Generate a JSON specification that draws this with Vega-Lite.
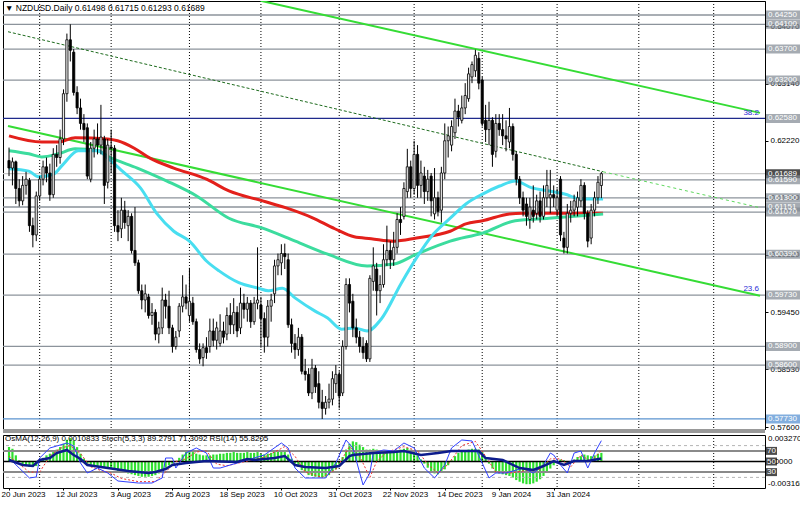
{
"$schema":"https://vega.github.io/schema/vega-lite/v6.json",
"padding":0,
"background":"white",
"spacing":0,
"config":{"view":{"stroke":"#000","strokeWidth":1},"font":"Liberation Sans","axis":{"labelFont":"Liberation Sans"}},
"datasets":{
"grid":[{"g":9},{"g":30},{"g":53},{"g":74},{"g":97},{"g":119},{"g":139},{"g":161},{"g":185},{"g":207}],
"levels":[{"p":0.6425,"c":"g"},{"p":0.641,"c":"g"},{"p":0.637,"c":"g"},{"p":0.632,"c":"g"},{"p":0.6258,"c":"n"},{"p":0.61689,"c":"k"},{"p":0.6159,"c":"g"},{"p":0.613,"c":"g"},{"p":0.6107,"c":"g"},{"p":0.61151,"c":"g"},{"p":0.6039,"c":"g"},{"p":0.5973,"c":"g"},{"p":0.589,"c":"g"},{"p":0.586,"c":"g"},{"p":0.5773,"c":"b"}],
"chan":[{"ln":"up","i":73.9,"p":0.6448},{"ln":"up","i":220.6,"p":0.6267},{"ln":"lo","i":-0.3,"p":0.6246},{"ln":"lo","i":220.6,"p":0.5972},{"ln":"mid","i":-0.3,"p":0.6398},{"ln":"mid","i":174.5,"p":0.6172},{"ln":"ext","i":174.5,"p":0.6172},{"ln":"ext","i":220.6,"p":0.6114}],
"mas":[
{"ma":"r","i":0,"p":0.6230},{"ma":"r","i":9.6,"p":0.6220},{"ma":"r","i":14.5,"p":0.6220},{"ma":"r","i":19.4,"p":0.6227},{"ma":"r","i":29,"p":0.6225},{"ma":"r","i":31.9,"p":0.6222},{"ma":"r","i":36.8,"p":0.6210},{"ma":"r","i":41.4,"p":0.6194},{"ma":"r","i":48.4,"p":0.6178},{"ma":"r","i":58,"p":0.6160},{"ma":"r","i":64.6,"p":0.6141},{"ma":"r","i":74.5,"p":0.6125},{"ma":"r","i":81.2,"p":0.6114},{"ma":"r","i":89,"p":0.6098},{"ma":"r","i":95.7,"p":0.6080},{"ma":"r","i":101.4,"p":0.6067},{"ma":"r","i":106.4,"p":0.6064},{"ma":"r","i":113,"p":0.6060},{"ma":"r","i":119.7,"p":0.6065},{"ma":"r","i":129.6,"p":0.6076},{"ma":"r","i":134.2,"p":0.6088},{"ma":"r","i":139.1,"p":0.6093},{"ma":"r","i":147,"p":0.6104},{"ma":"r","i":150.7,"p":0.6105},{"ma":"r","i":158.6,"p":0.6105},{"ma":"r","i":168.1,"p":0.6105},{"ma":"r","i":174.5,"p":0.6105},
{"ma":"t","i":0,"p":0.6206},{"ma":"t","i":5.8,"p":0.6201},{"ma":"t","i":9.6,"p":0.6196},{"ma":"t","i":14.5,"p":0.6201},{"ma":"t","i":19.4,"p":0.6209},{"ma":"t","i":26.1,"p":0.6206},{"ma":"t","i":29,"p":0.6197},{"ma":"t","i":37.7,"p":0.6178},{"ma":"t","i":46.4,"p":0.6157},{"ma":"t","i":55.1,"p":0.6133},{"ma":"t","i":64.6,"p":0.6097},{"ma":"t","i":74.5,"p":0.6081},{"ma":"t","i":84.1,"p":0.6060},{"ma":"t","i":93.6,"p":0.6039},{"ma":"t","i":105.2,"p":0.6020},{"ma":"t","i":113,"p":0.6023},{"ma":"t","i":119.7,"p":0.6039},{"ma":"t","i":129.6,"p":0.6060},{"ma":"t","i":139.1,"p":0.6073},{"ma":"t","i":148.7,"p":0.6093},{"ma":"t","i":158.6,"p":0.6097},{"ma":"t","i":168.1,"p":0.6101},{"ma":"t","i":174.5,"p":0.6104},
{"ma":"c","i":0,"p":0.6177},{"ma":"c","i":5.8,"p":0.6173},{"ma":"c","i":8.7,"p":0.6164},{"ma":"c","i":13,"p":0.6168},{"ma":"c","i":15.9,"p":0.6184},{"ma":"c","i":20.3,"p":0.6206},{"ma":"c","i":26.1,"p":0.6206},{"ma":"c","i":29,"p":0.6194},{"ma":"c","i":33.3,"p":0.6173},{"ma":"c","i":38.6,"p":0.6146},{"ma":"c","i":43.5,"p":0.6104},{"ma":"c","i":48.4,"p":0.6076},{"ma":"c","i":53,"p":0.6060},{"ma":"c","i":58,"p":0.6028},{"ma":"c","i":61.7,"p":0.6012},{"ma":"c","i":67.5,"p":0.5993},{"ma":"c","i":73.3,"p":0.5984},{"ma":"c","i":76.2,"p":0.5980},{"ma":"c","i":80.3,"p":0.5984},{"ma":"c","i":84.1,"p":0.5968},{"ma":"c","i":89.9,"p":0.5947},{"ma":"c","i":93.6,"p":0.5936},{"ma":"c","i":97.7,"p":0.5918},{"ma":"c","i":101.4,"p":0.5920},{"ma":"c","i":105.2,"p":0.5915},{"ma":"c","i":109.3,"p":0.5934},{"ma":"c","i":115.1,"p":0.5991},{"ma":"c","i":119.7,"p":0.6033},{"ma":"c","i":124.6,"p":0.6071},{"ma":"c","i":129.6,"p":0.6097},{"ma":"c","i":134.2,"p":0.6120},{"ma":"c","i":139.1,"p":0.6136},{"ma":"c","i":144.1,"p":0.6149},{"ma":"c","i":148.7,"p":0.6157},{"ma":"c","i":153.6,"p":0.6146},{"ma":"c","i":158.6,"p":0.6141},{"ma":"c","i":163.2,"p":0.6136},{"ma":"c","i":168.1,"p":0.6128},{"ma":"c","i":174.5,"p":0.6128}],
"candles":[
{"i":0,"o":0.6190,"h":0.6211,"l":0.6165,"c":0.6178},{"i":1,"o":0.6178,"h":0.6195,"l":0.6150,"c":0.6188},{"i":2,"o":0.6188,"h":0.6190,"l":0.6120,"c":0.6145},{"i":3,"o":0.6145,"h":0.6160,"l":0.6116,"c":0.6125},{"i":4,"o":0.6125,"h":0.6165,"l":0.6118,"c":0.6150},
{"i":5,"o":0.6150,"h":0.6172,"l":0.6135,"c":0.6160},{"i":6,"o":0.6158,"h":0.6162,"l":0.6075,"c":0.6085},{"i":7,"o":0.6085,"h":0.6098,"l":0.6050,"c":0.6070},{"i":8,"o":0.6070,"h":0.6140,"l":0.6060,"c":0.6133},{"i":9,"o":0.6133,"h":0.6165,"l":0.6125,"c":0.6160},
{"i":10,"o":0.6160,"h":0.6190,"l":0.6150,"c":0.6180},{"i":11,"o":0.6180,"h":0.6195,"l":0.6155,"c":0.6170},{"i":12,"o":0.6170,"h":0.6185,"l":0.6125,"c":0.6135},{"i":13,"o":0.6135,"h":0.6210,"l":0.6130,"c":0.6200},{"i":14,"o":0.6200,"h":0.6215,"l":0.6180,"c":0.6195},
{"i":15,"o":0.6195,"h":0.6240,"l":0.6185,"c":0.6225},{"i":16,"o":0.6225,"h":0.6305,"l":0.6215,"c":0.6298},{"i":17,"o":0.6298,"h":0.6395,"l":0.6285,"c":0.6385},{"i":18,"o":0.6385,"h":0.6410,"l":0.6350,"c":0.6368},{"i":19,"o":0.6365,"h":0.6370,"l":0.6295,"c":0.6300},
{"i":20,"o":0.6300,"h":0.6310,"l":0.6265,"c":0.6275},{"i":21,"o":0.6275,"h":0.6290,"l":0.6240,"c":0.6250},{"i":22,"o":0.6250,"h":0.6265,"l":0.6220,"c":0.6240},{"i":23,"o":0.6243,"h":0.6250,"l":0.6160,"c":0.6165},{"i":24,"o":0.6160,"h":0.6220,"l":0.6155,"c":0.6210},
{"i":25,"o":0.6210,"h":0.6240,"l":0.6195,"c":0.6225},{"i":26,"o":0.6225,"h":0.6250,"l":0.6200,"c":0.6215},{"i":27,"o":0.6215,"h":0.6280,"l":0.6200,"c":0.6228},{"i":28,"o":0.6225,"h":0.6230,"l":0.6120,"c":0.6150},{"i":29,"o":0.6155,"h":0.6225,"l":0.6145,"c":0.6215},
{"i":30,"o":0.6212,"h":0.6240,"l":0.6170,"c":0.6210},{"i":31,"o":0.6210,"h":0.6215,"l":0.6075,"c":0.6085},{"i":32,"o":0.6085,"h":0.6110,"l":0.6060,"c":0.6075},{"i":33,"o":0.6080,"h":0.6130,"l":0.6065,"c":0.6110},{"i":34,"o":0.6110,"h":0.6125,"l":0.6080,"c":0.6090},
{"i":35,"o":0.6085,"h":0.6110,"l":0.6060,"c":0.6100},{"i":36,"o":0.6100,"h":0.6105,"l":0.6040,"c":0.6045},{"i":37,"o":0.6045,"h":0.6115,"l":0.6020,"c":0.6025},{"i":38,"o":0.6025,"h":0.6030,"l":0.5975,"c":0.5980},{"i":39,"o":0.5980,"h":0.5990,"l":0.5950,"c":0.5965},
{"i":40,"o":0.5965,"h":0.5990,"l":0.5945,"c":0.5975},{"i":41,"o":0.5970,"h":0.5975,"l":0.5935,"c":0.5940},{"i":42,"o":0.5940,"h":0.5960,"l":0.5925,"c":0.5945},{"i":43,"o":0.5945,"h":0.5950,"l":0.5900,"c":0.5910},{"i":44,"o":0.5910,"h":0.5930,"l":0.5895,"c":0.5920},
{"i":45,"o":0.5920,"h":0.5985,"l":0.5910,"c":0.5965},{"i":46,"o":0.5965,"h":0.5975,"l":0.5935,"c":0.5955},{"i":47,"o":0.5955,"h":0.5980,"l":0.5910,"c":0.5920},{"i":48,"o":0.5920,"h":0.5925,"l":0.5880,"c":0.5890},{"i":49,"o":0.5890,"h":0.5915,"l":0.5885,"c":0.5905},
{"i":50,"o":0.5915,"h":0.5960,"l":0.5905,"c":0.5955},{"i":51,"o":0.5955,"h":0.6005,"l":0.5945,"c":0.5970},{"i":52,"o":0.5970,"h":0.5990,"l":0.5950,"c":0.5960},{"i":53,"o":0.5940,"h":0.6017,"l":0.5930,"c":0.5963},{"i":54,"o":0.5960,"h":0.5970,"l":0.5925,"c":0.5930},
{"i":55,"o":0.5930,"h":0.5935,"l":0.5880,"c":0.5885},{"i":56,"o":0.5885,"h":0.5895,"l":0.5862,"c":0.5870},{"i":57,"o":0.5872,"h":0.5895,"l":0.5858,"c":0.5888},{"i":58,"o":0.5888,"h":0.5905,"l":0.5870,"c":0.5880},{"i":59,"o":0.5890,"h":0.5935,"l":0.5880,"c":0.5915},
{"i":60,"o":0.5915,"h":0.5935,"l":0.5890,"c":0.5900},{"i":61,"o":0.5900,"h":0.5930,"l":0.5885,"c":0.5920},{"i":62,"o":0.5895,"h":0.5942,"l":0.5890,"c":0.5915},{"i":63,"o":0.5915,"h":0.5930,"l":0.5895,"c":0.5905},{"i":64,"o":0.5910,"h":0.5953,"l":0.5900,"c":0.5940},
{"i":65,"o":0.5940,"h":0.5960,"l":0.5910,"c":0.5925},{"i":66,"o":0.5925,"h":0.5968,"l":0.5910,"c":0.5945},{"i":67,"o":0.5945,"h":0.5955,"l":0.5905,"c":0.5915},{"i":68,"o":0.5920,"h":0.5985,"l":0.5910,"c":0.5960},{"i":69,"o":0.5960,"h":0.5975,"l":0.5935,"c":0.5950},
{"i":70,"o":0.5950,"h":0.5970,"l":0.5930,"c":0.5960},{"i":71,"o":0.5960,"h":0.5965,"l":0.5920,"c":0.5930},{"i":72,"o":0.5930,"h":0.5970,"l":0.5925,"c":0.5960},{"i":73,"o":0.5960,"h":0.6050,"l":0.5950,"c":0.5965},{"i":74,"o":0.5957,"h":0.5970,"l":0.5888,"c":0.5935},
{"i":75,"o":0.5935,"h":0.5945,"l":0.5880,"c":0.5905},{"i":76,"o":0.5905,"h":0.5965,"l":0.5890,"c":0.5955},{"i":77,"o":0.5955,"h":0.5975,"l":0.5930,"c":0.5965},{"i":78,"o":0.5975,"h":0.6030,"l":0.5960,"c":0.6020},{"i":79,"o":0.6020,"h":0.6040,"l":0.6005,"c":0.6030},
{"i":80,"o":0.6025,"h":0.6055,"l":0.6005,"c":0.6040},{"i":81,"o":0.6040,"h":0.6056,"l":0.6015,"c":0.6035},{"i":82,"o":0.6030,"h":0.6040,"l":0.5920,"c":0.5925},{"i":83,"o":0.5925,"h":0.5935,"l":0.5880,"c":0.5895},{"i":84,"o":0.5895,"h":0.5910,"l":0.5870,"c":0.5885},
{"i":85,"o":0.5885,"h":0.5920,"l":0.5875,"c":0.5905},{"i":86,"o":0.5905,"h":0.5910,"l":0.5845,"c":0.5850},{"i":87,"o":0.5850,"h":0.5870,"l":0.5835,"c":0.5845},{"i":88,"o":0.5845,"h":0.5855,"l":0.5810,"c":0.5815},{"i":89,"o":0.5815,"h":0.5870,"l":0.5805,"c":0.5855},
{"i":90,"o":0.5855,"h":0.5860,"l":0.5815,"c":0.5825},{"i":91,"o":0.5830,"h":0.5850,"l":0.5790,"c":0.5800},{"i":92,"o":0.5800,"h":0.5820,"l":0.5773,"c":0.5790},{"i":93,"o":0.5790,"h":0.5810,"l":0.5780,"c":0.5800},{"i":94,"o":0.5800,"h":0.5830,"l":0.5790,"c":0.5805},
{"i":95,"o":0.5805,"h":0.5850,"l":0.5795,"c":0.5838},{"i":96,"o":0.5830,"h":0.5860,"l":0.5815,"c":0.5845},{"i":97,"o":0.5845,"h":0.5850,"l":0.5790,"c":0.5810},{"i":98,"o":0.5815,"h":0.5900,"l":0.5810,"c":0.5890},{"i":99,"o":0.5890,"h":0.6000,"l":0.5885,"c":0.5990},
{"i":100,"o":0.5990,"h":0.6000,"l":0.5945,"c":0.5960},{"i":101,"o":0.5963,"h":0.5975,"l":0.5905,"c":0.5920},{"i":102,"o":0.5920,"h":0.5935,"l":0.5895,"c":0.5905},{"i":103,"o":0.5905,"h":0.5915,"l":0.5880,"c":0.5890},{"i":104,"o":0.5890,"h":0.5905,"l":0.5870,"c":0.5880},
{"i":105,"o":0.5895,"h":0.5900,"l":0.5865,"c":0.5870},{"i":106,"o":0.5870,"h":0.6005,"l":0.5865,"c":0.6000},{"i":107,"o":0.5995,"h":0.6050,"l":0.5980,"c":0.6020},{"i":108,"o":0.6015,"h":0.6025,"l":0.5940,"c":0.5980},{"i":109,"o":0.5980,"h":0.6005,"l":0.5960,"c":0.5990},
{"i":110,"o":0.5990,"h":0.6055,"l":0.5985,"c":0.6030},{"i":111,"o":0.6030,"h":0.6085,"l":0.6020,"c":0.6045},{"i":112,"o":0.6045,"h":0.6060,"l":0.6015,"c":0.6030},{"i":113,"o":0.6030,"h":0.6075,"l":0.6020,"c":0.6050},{"i":114,"o":0.6050,"h":0.6105,"l":0.6040,"c":0.6095},
{"i":115,"o":0.6095,"h":0.6115,"l":0.6070,"c":0.6090},{"i":116,"o":0.6100,"h":0.6155,"l":0.6095,"c":0.6145},{"i":117,"o":0.6140,"h":0.6209,"l":0.6130,"c":0.6180},{"i":118,"o":0.6180,"h":0.6190,"l":0.6130,"c":0.6145},{"i":119,"o":0.6145,"h":0.6222,"l":0.6135,"c":0.6200},
{"i":120,"o":0.6200,"h":0.6215,"l":0.6130,"c":0.6150},{"i":121,"o":0.6150,"h":0.6190,"l":0.6130,"c":0.6170},{"i":122,"o":0.6165,"h":0.6180,"l":0.6120,"c":0.6140},{"i":123,"o":0.6140,"h":0.6175,"l":0.6125,"c":0.6160},{"i":124,"o":0.6165,"h":0.6170,"l":0.6100,"c":0.6125},
{"i":125,"o":0.6104,"h":0.6178,"l":0.6095,"c":0.6130},{"i":126,"o":0.6130,"h":0.6140,"l":0.6100,"c":0.6108},{"i":127,"o":0.6110,"h":0.6180,"l":0.6090,"c":0.6170},{"i":128,"o":0.6170,"h":0.6250,"l":0.6160,"c":0.6222},{"i":129,"o":0.6222,"h":0.6245,"l":0.6195,"c":0.6230},
{"i":130,"o":0.6215,"h":0.6255,"l":0.6205,"c":0.6245},{"i":131,"o":0.6235,"h":0.6290,"l":0.6225,"c":0.6270},{"i":132,"o":0.6270,"h":0.6280,"l":0.6245,"c":0.6260},{"i":133,"o":0.6255,"h":0.6295,"l":0.6250,"c":0.6275},{"i":134,"o":0.6275,"h":0.6315,"l":0.6265,"c":0.6295},
{"i":135,"o":0.6290,"h":0.6340,"l":0.6285,"c":0.6330},{"i":136,"o":0.6325,"h":0.6350,"l":0.6315,"c":0.6345},{"i":137,"o":0.6335,"h":0.6369,"l":0.6325,"c":0.6360},{"i":138,"o":0.6355,"h":0.6365,"l":0.6305,"c":0.6315},{"i":139,"o":0.6320,"h":0.6325,"l":0.6245,"c":0.6250},
{"i":140,"o":0.6255,"h":0.6280,"l":0.6220,"c":0.6240},{"i":141,"o":0.6240,"h":0.6285,"l":0.6215,"c":0.6255},{"i":142,"o":0.6255,"h":0.6260,"l":0.6180,"c":0.6200},{"i":143,"o":0.6205,"h":0.6265,"l":0.6195,"c":0.6250},{"i":144,"o":0.6250,"h":0.6265,"l":0.6230,"c":0.6240},
{"i":145,"o":0.6240,"h":0.6265,"l":0.6215,"c":0.6230},{"i":146,"o":0.6230,"h":0.6255,"l":0.6205,"c":0.6225},{"i":147,"o":0.6220,"h":0.6275,"l":0.6210,"c":0.6245},{"i":148,"o":0.6245,"h":0.6250,"l":0.6190,"c":0.6200},{"i":149,"o":0.6200,"h":0.6205,"l":0.6150,"c":0.6160},
{"i":150,"o":0.6160,"h":0.6165,"l":0.6120,"c":0.6130},{"i":151,"o":0.6130,"h":0.6140,"l":0.6100,"c":0.6110},{"i":152,"o":0.6120,"h":0.6130,"l":0.6085,"c":0.6100},{"i":153,"o":0.6095,"h":0.6130,"l":0.6080,"c":0.6115},{"i":154,"o":0.6110,"h":0.6150,"l":0.6090,"c":0.6100},
{"i":155,"o":0.6105,"h":0.6135,"l":0.6095,"c":0.6125},{"i":156,"o":0.6125,"h":0.6140,"l":0.6090,"c":0.6100},{"i":157,"o":0.6100,"h":0.6150,"l":0.6095,"c":0.6130},{"i":158,"o":0.6130,"h":0.6175,"l":0.6115,"c":0.6150},{"i":159,"o":0.6130,"h":0.6175,"l":0.6105,"c":0.6135},
{"i":160,"o":0.6135,"h":0.6150,"l":0.6115,"c":0.6130},{"i":161,"o":0.6110,"h":0.6145,"l":0.6100,"c":0.6130},{"i":162,"o":0.6160,"h":0.6165,"l":0.6060,"c":0.6070},{"i":163,"o":0.6065,"h":0.6075,"l":0.6040,"c":0.6050},{"i":164,"o":0.6050,"h":0.6120,"l":0.6040,"c":0.6105},
{"i":165,"o":0.6105,"h":0.6125,"l":0.6090,"c":0.6110},{"i":166,"o":0.6110,"h":0.6135,"l":0.6100,"c":0.6125},{"i":167,"o":0.6115,"h":0.6140,"l":0.6100,"c":0.6130},{"i":168,"o":0.6125,"h":0.6160,"l":0.6115,"c":0.6150},{"i":169,"o":0.6150,"h":0.6155,"l":0.6095,"c":0.6105},
{"i":170,"o":0.6105,"h":0.6110,"l":0.6050,"c":0.6060},{"i":171,"o":0.6065,"h":0.6120,"l":0.6055,"c":0.6110},{"i":172,"o":0.6110,"h":0.6140,"l":0.6100,"c":0.6130},{"i":173,"o":0.6130,"h":0.6165,"l":0.6120,"c":0.6155},{"i":174,"o":0.61498,"h":0.61715,"l":0.61293,"c":0.61689}],
"fib":[{"i":220.3,"p":0.6260,"t":"38.2"},{"i":220.3,"p":0.5976,"t":"23.6"}],
"osma":[{"i":0,"v":0.0018},{"i":1,"v":0.0016},{"i":2,"v":0.0008},{"i":3,"v":0.0002},{"i":4,"v":-0.0003},{"i":5,"v":-0.0005},{"i":6,"v":-0.0006},{"i":7,"v":-0.0006},{"i":8,"v":-0.0005},{"i":9,"v":0.0002},{"i":10,"v":0.0005},{"i":11,"v":0.0008},{"i":12,"v":0.0010},{"i":13,"v":0.0012},{"i":14,"v":0.0015},{"i":15,"v":0.0018},{"i":16,"v":0.0022},{"i":17,"v":0.0027},{"i":18,"v":0.0029},{"i":19,"v":0.0026},{"i":20,"v":0.0018},{"i":21,"v":0.0010},{"i":22,"v":0.0004},{"i":23,"v":-0.0002},{"i":24,"v":-0.0004},{"i":25,"v":-0.0005},{"i":26,"v":-0.0006},{"i":27,"v":-0.0006},{"i":28,"v":-0.0007},{"i":29,"v":-0.0008},{"i":30,"v":-0.0008},{"i":31,"v":-0.0009},{"i":32,"v":-0.0011},{"i":33,"v":-0.0012},{"i":34,"v":-0.0013},{"i":35,"v":-0.0014},{"i":36,"v":-0.0015},{"i":37,"v":-0.0016},{"i":38,"v":-0.0017},{"i":39,"v":-0.0018},{"i":40,"v":-0.0018},{"i":41,"v":-0.0018},{"i":42,"v":-0.0017},{"i":43,"v":-0.0016},{"i":44,"v":-0.0014},{"i":45,"v":-0.0011},{"i":46,"v":-0.0007},{"i":47,"v":-0.0004},{"i":48,"v":-0.0002},{"i":49,"v":0.0001},{"i":50,"v":0.0005},{"i":51,"v":0.0009},{"i":52,"v":0.0012},{"i":53,"v":0.0013},{"i":54,"v":0.0012},{"i":55,"v":0.0010},{"i":56,"v":0.0009},{"i":57,"v":0.0008},{"i":58,"v":0.0008},{"i":59,"v":0.0008},{"i":60,"v":0.0009},{"i":61,"v":0.0009},{"i":62,"v":0.0010},{"i":63,"v":0.0010},{"i":64,"v":0.0011},{"i":65,"v":0.0011},{"i":66,"v":0.0012},{"i":67,"v":0.0011},{"i":68,"v":0.0011},{"i":69,"v":0.0011},{"i":70,"v":0.0012},{"i":71,"v":0.0011},{"i":72,"v":0.0011},{"i":73,"v":0.0012},{"i":74,"v":0.0010},{"i":75,"v":0.0009},{"i":76,"v":0.0010},{"i":77,"v":0.0011},{"i":78,"v":0.0012},{"i":79,"v":0.0013},{"i":80,"v":0.0013},{"i":81,"v":0.0012},{"i":82,"v":0.0009},{"i":83,"v":0.0004},{"i":84,"v":-0.0002},{"i":85,"v":-0.0006},{"i":86,"v":-0.0010},{"i":87,"v":-0.0013},{"i":88,"v":-0.0016},{"i":89,"v":-0.0017},{"i":90,"v":-0.0018},{"i":91,"v":-0.0019},{"i":92,"v":-0.0019},{"i":93,"v":-0.0018},{"i":94,"v":-0.0016},{"i":95,"v":-0.0013},{"i":96,"v":-0.0009},{"i":97,"v":-0.0003},{"i":98,"v":0.0006},{"i":99,"v":0.0015},{"i":100,"v":0.0022},{"i":101,"v":0.0025},{"i":102,"v":0.0024},{"i":103,"v":0.0021},{"i":104,"v":0.0018},{"i":105,"v":0.0015},{"i":106,"v":0.0015},{"i":107,"v":0.0016},{"i":108,"v":0.0015},{"i":109,"v":0.0013},{"i":110,"v":0.0013},{"i":111,"v":0.0014},{"i":112,"v":0.0014},{"i":113,"v":0.0013},{"i":114,"v":0.0014},{"i":115,"v":0.0015},{"i":116,"v":0.0016},{"i":117,"v":0.0017},{"i":118,"v":0.0015},{"i":119,"v":0.0012},{"i":120,"v":0.0008},{"i":121,"v":0.0003},{"i":122,"v":-0.0002},{"i":123,"v":-0.0007},{"i":124,"v":-0.0011},{"i":125,"v":-0.0014},{"i":126,"v":-0.0015},{"i":127,"v":-0.0013},{"i":128,"v":-0.0009},{"i":129,"v":-0.0004},{"i":130,"v":0.0002},{"i":131,"v":0.0007},{"i":132,"v":0.0011},{"i":133,"v":0.0013},{"i":134,"v":0.0014},{"i":135,"v":0.0015},{"i":136,"v":0.0016},{"i":137,"v":0.0016},{"i":138,"v":0.0015},{"i":139,"v":0.0012},{"i":140,"v":0.0006},{"i":141,"v":-0.0002},{"i":142,"v":-0.0008},{"i":143,"v":-0.0012},{"i":144,"v":-0.0014},{"i":145,"v":-0.0015},{"i":146,"v":-0.0016},{"i":147,"v":-0.0017},{"i":148,"v":-0.0019},{"i":149,"v":-0.0022},{"i":150,"v":-0.0024},{"i":151,"v":-0.0026},{"i":152,"v":-0.0027},{"i":153,"v":-0.0027},{"i":154,"v":-0.0026},{"i":155,"v":-0.0024},{"i":156,"v":-0.0021},{"i":157,"v":-0.0017},{"i":158,"v":-0.0012},{"i":159,"v":-0.0008},{"i":160,"v":-0.0004},{"i":161,"v":0.0001},{"i":162,"v":0.0003},{"i":163,"v":0.0002},{"i":164,"v":-0.0002},{"i":165,"v":0.0001},{"i":166,"v":0.0003},{"i":167,"v":0.0006},{"i":168,"v":0.0007},{"i":169,"v":0.0009},{"i":170,"v":0.0008},{"i":171,"v":0.0007},{"i":172,"v":0.0008},{"i":173,"v":0.0010},{"i":174,"v":0.0011}],
"rsi":[{"i":0,"v":52.8},{"i":4,"v":43.4},{"i":7,"v":41.5},{"i":9,"v":52.8},{"i":12,"v":56.6},{"i":14,"v":66},{"i":17,"v":71.7},{"i":19,"v":62.3},{"i":21,"v":54.7},{"i":23,"v":43.4},{"i":29,"v":37.7},{"i":35,"v":32},{"i":41,"v":28.3},{"i":43,"v":30.2},{"i":46,"v":35.8},{"i":48,"v":43.4},{"i":52,"v":47.2},{"i":58,"v":50.9},{"i":67,"v":49},{"i":70,"v":54.7},{"i":72,"v":52.8},{"i":78,"v":56.6},{"i":81,"v":60.4},{"i":84,"v":43.4},{"i":87,"v":39.6},{"i":93,"v":37.7},{"i":97,"v":41.5},{"i":100,"v":60.4},{"i":101,"v":62.3},{"i":107,"v":66},{"i":113,"v":67.9},{"i":116,"v":69.8},{"i":121,"v":62.3},{"i":126,"v":66},{"i":130,"v":69.8},{"i":138,"v":69.8},{"i":140,"v":56.6},{"i":145,"v":52.8},{"i":150,"v":37.7},{"i":154,"v":34},{"i":157,"v":41.5},{"i":160,"v":50.9},{"i":163,"v":43.4},{"i":166,"v":50.9},{"i":170,"v":50.9},{"i":174,"v":55.8}],
"stoch":[{"i":0,"v":56.6},{"i":3,"v":37.7},{"i":6,"v":18.9},{"i":8,"v":20.8},{"i":9,"v":56.6},{"i":12,"v":75.5},{"i":14,"v":79.2},{"i":17,"v":84.9},{"i":19,"v":79.2},{"i":21,"v":47.2},{"i":23,"v":28.3},{"i":26,"v":37.7},{"i":29,"v":28.3},{"i":32,"v":13.2},{"i":38,"v":9.4},{"i":42,"v":9.4},{"i":45,"v":18.9},{"i":46,"v":56.6},{"i":48,"v":56.6},{"i":49,"v":37.7},{"i":52,"v":66},{"i":55,"v":75.5},{"i":58,"v":66},{"i":60,"v":37.7},{"i":62,"v":37.7},{"i":67,"v":47.2},{"i":75,"v":62.3},{"i":80,"v":84.9},{"i":82,"v":75.5},{"i":84,"v":37.7},{"i":87,"v":18.9},{"i":93,"v":18.9},{"i":96,"v":47.2},{"i":99,"v":90.6},{"i":101,"v":75.5},{"i":104,"v":5.7},{"i":106,"v":28.3},{"i":107,"v":66},{"i":110,"v":71.7},{"i":113,"v":69.8},{"i":116,"v":84.9},{"i":119,"v":75.5},{"i":122,"v":37.7},{"i":125,"v":18.9},{"i":128,"v":43.4},{"i":130,"v":75.5},{"i":133,"v":90.6},{"i":136,"v":88.7},{"i":139,"v":47.2},{"i":141,"v":18.9},{"i":143,"v":28.3},{"i":146,"v":28.3},{"i":151,"v":37.7},{"i":154,"v":28.3},{"i":157,"v":43.4},{"i":159,"v":66},{"i":160,"v":62.3},{"i":162,"v":43.4},{"i":164,"v":28.3},{"i":166,"v":66},{"i":168,"v":69.8},{"i":170,"v":37.7},{"i":172,"v":66},{"i":174,"v":89.3}],
"signal":[{"i":0,"v":60},{"i":3,"v":45},{"i":6,"v":30},{"i":9,"v":30},{"i":12,"v":60},{"i":15,"v":75},{"i":18,"v":80},{"i":21,"v":65},{"i":24,"v":40},{"i":27,"v":33},{"i":30,"v":28},{"i":33,"v":18},{"i":38,"v":12},{"i":43,"v":12},{"i":46,"v":30},{"i":49,"v":50},{"i":52,"v":55},{"i":55,"v":68},{"i":58,"v":70},{"i":61,"v":45},{"i":64,"v":42},{"i":68,"v":48},{"i":75,"v":58},{"i":81,"v":78},{"i":84,"v":60},{"i":87,"v":30},{"i":92,"v":20},{"i":96,"v":35},{"i":100,"v":78},{"i":103,"v":60},{"i":106,"v":20},{"i":108,"v":50},{"i":111,"v":68},{"i":116,"v":78},{"i":120,"v":70},{"i":123,"v":45},{"i":126,"v":28},{"i":129,"v":45},{"i":133,"v":80},{"i":137,"v":88},{"i":140,"v":60},{"i":143,"v":30},{"i":147,"v":28},{"i":152,"v":33},{"i":156,"v":35},{"i":159,"v":55},{"i":162,"v":55},{"i":165,"v":40},{"i":168,"v":62},{"i":171,"v":50},{"i":174,"v":71.3}],
"hl":[{"v":80,"s":"d"},{"v":20,"s":"d"},{"v":70,"s":"g"},{"v":30,"s":"g"},{"v":50,"s":"k"}],
"boxes":[{"v":70},{"v":50},{"v":30}]
},
"vconcat":[
{
"width":762,"height":428,
"title":{"text":"▼ NZDUSD.Daily  0.61498 0.61715 0.61293 0.61689","anchor":"start","frame":"group","offset":-12,"fontSize":8.5,"fontWeight":"normal","font":"Liberation Sans","color":"#000","dx":2},
"layer":[
{"data":{"name":"grid"},"mark":{"type":"rule","color":"#000","strokeDash":[1,2],"strokeWidth":1},
 "encoding":{"x":{"field":"g","type":"quantitative","scale":{"domain":[-0.3,220.6],"nice":false,"zero":false},"axis":null}}},
{"data":{"name":"levels"},"mark":{"type":"rule","strokeWidth":1.3},
 "encoding":{"y":{"field":"p","type":"quantitative","scale":{"domain":[0.57568,0.64476],"nice":false,"zero":false}},
 "stroke":{"field":"c","type":"nominal","scale":{"domain":["g","n","k","b"],"range":["#8c939b","#1f2a8c","#c8c8c8","#5b93cf"]},"legend":null}}},
{"data":{"name":"chan"},"transform":[{"filter":"datum.ln=='up'||datum.ln=='lo'"}],"mark":{"type":"line","color":"#35dc35","strokeWidth":2,"clip":true},
 "encoding":{"x":{"field":"i","type":"quantitative","scale":{"domain":[-0.3,220.6],"nice":false,"zero":false},"axis":null},
 "y":{"field":"p","type":"quantitative","scale":{"domain":[0.57568,0.64476],"nice":false,"zero":false}},"detail":{"field":"ln"}}},
{"data":{"name":"chan"},"transform":[{"filter":"datum.ln=='mid'"}],"mark":{"type":"line","color":"#1d6b1d","strokeWidth":1,"strokeDash":[3,2],"clip":true},
 "encoding":{"x":{"field":"i","type":"quantitative","scale":{"domain":[-0.3,220.6],"nice":false,"zero":false},"axis":null},
 "y":{"field":"p","type":"quantitative","scale":{"domain":[0.57568,0.64476],"nice":false,"zero":false}}}},
{"data":{"name":"chan"},"transform":[{"filter":"datum.ln=='ext'"}],"mark":{"type":"line","color":"#5fd85f","strokeWidth":1,"strokeDash":[3,3],"clip":true},
 "encoding":{"x":{"field":"i","type":"quantitative","scale":{"domain":[-0.3,220.6],"nice":false,"zero":false},"axis":null},
 "y":{"field":"p","type":"quantitative","scale":{"domain":[0.57568,0.64476],"nice":false,"zero":false}}}},
{"data":{"name":"mas"},"mark":{"type":"line","strokeWidth":3,"interpolate":"monotone"},
 "encoding":{"x":{"field":"i","type":"quantitative","scale":{"domain":[-0.3,220.6],"nice":false,"zero":false},"axis":null},
 "y":{"field":"p","type":"quantitative","scale":{"domain":[0.57568,0.64476],"nice":false,"zero":false}},
 "color":{"field":"ma","type":"nominal","scale":{"domain":["c","t","r"],"range":["#48def0","#3cdc9e","#e3201b"]},"legend":null},"order":{"field":"i"}}},
{"data":{"name":"candles"},"mark":{"type":"rule","color":"#000","strokeWidth":1},
 "encoding":{"x":{"field":"i","type":"quantitative","scale":{"domain":[-0.3,220.6],"nice":false,"zero":false},"axis":null},
 "y":{"field":"l","type":"quantitative","scale":{"domain":[0.57568,0.64476],"nice":false,"zero":false},
   "axis":{"orient":"right","title":null,"grid":false,"values":[0.576,0.5806,0.5853,0.5899,0.5945,0.5991,0.6038,0.6084,0.613,0.6176,0.6222,0.6268,0.6314,0.6361,0.6407],"format":".5f","domain":true,"domainColor":"#000","ticks":true,"tickSize":3,"tickColor":"#000","labelFontSize":8,"labelColor":"#000","labelPadding":2,"labelOverlap":false,"labelFlush":false,"labelBound":false}},
 "y2":{"field":"h"}}},
{"data":{"name":"candles"},"mark":{"type":"bar","size":2.2,"stroke":"#000","strokeWidth":0.8},
 "encoding":{"x":{"field":"i","type":"quantitative","scale":{"domain":[-0.3,220.6],"nice":false,"zero":false},"axis":null},
 "y":{"field":"o","type":"quantitative","scale":{"domain":[0.57568,0.64476],"nice":false,"zero":false}},
 "y2":{"field":"c"},
 "fill":{"condition":{"test":"datum.c>=datum.o","value":"#e6e6e6"},"value":"#000"}}},
{"data":{"name":"fib"},"mark":{"type":"text","align":"right","baseline":"bottom","fontSize":8,"color":"#2b2bd6"},
 "encoding":{"x":{"field":"i","type":"quantitative","scale":{"domain":[-0.3,220.6],"nice":false,"zero":false},"axis":null},
 "y":{"field":"p","type":"quantitative","scale":{"domain":[0.57568,0.64476],"nice":false,"zero":false}},"text":{"field":"t"}}},
{"data":{"name":"levels"},"mark":{"type":"tick","orient":"horizontal","size":36,"thickness":9,"xOffset":19},
 "encoding":{"x":{"value":"width"},
 "y":{"field":"p","type":"quantitative","scale":{"domain":[0.57568,0.64476],"nice":false,"zero":false}},
 "fill":{"field":"c","type":"nominal","scale":{"domain":["g","n","k","b"],"range":["#7f8891","#7f8891","#000000","#4d8bd0"]},"legend":null}}},
{"data":{"name":"levels"},"mark":{"type":"text","align":"left","dx":3,"fontSize":8,"color":"#fff"},
 "encoding":{"x":{"value":"width"},
 "y":{"field":"p","type":"quantitative","scale":{"domain":[0.57568,0.64476],"nice":false,"zero":false}},
 "text":{"field":"p","format":".5f"}}},
{"data":{"values":[{}]},"mark":{"type":"rule","color":"#999","strokeWidth":4,"yOffset":2},"encoding":{"y":{"value":"height"}}}
]
},
{
"width":762,"height":53,
"title":{"text":"OsMA(12,26,9) 0.0010833   Stoch(5,3,3) 89.2791 71.3092   RSI(14) 55.8205","anchor":"start","frame":"group","offset":-8,"fontSize":8,"fontWeight":"normal","font":"Liberation Sans","color":"#000","dx":2},
"layer":[
{"data":{"name":"osma"},"mark":{"type":"bar","size":2.2,"color":"#2ee02e"},
 "encoding":{"x":{"field":"i","type":"quantitative","scale":{"domain":[-0.3,220.6],"nice":false,"zero":false},
   "axis":{"values":[0,16,32,48,64,80,96,112,128,144,160],"labelExpr":"datum.value==0?'20 Jun 2023':datum.value==16?'12 Jul 2023':datum.value==32?'3 Aug 2023':datum.value==48?'25 Aug 2023':datum.value==64?'18 Sep 2023':datum.value==80?'10 Oct 2023':datum.value==96?'31 Oct 2023':datum.value==112?'22 Nov 2023':datum.value==128?'14 Dec 2023':datum.value==144?'9 Jan 2024':'31 Jan 2024'","labelAlign":"left","labelOffset":-8,"labelFontSize":8,"labelColor":"#000","tickSize":2,"tickColor":"#000","labelPadding":0,"domain":false,"grid":false,"title":null,"labelOverlap":false,"labelFlush":false,"labelBound":false}},
 "y":{"field":"v","type":"quantitative","scale":{"domain":[-0.0031623,0.0032703],"nice":false,"zero":false},"axis":null},
 "y2":{"datum":0}}},
{"data":{"values":[{"t":"0.0032703","v":0.0032703}]},"mark":{"type":"text","align":"left","dx":3,"baseline":"top","fontSize":8,"color":"#000"},
 "encoding":{"x":{"value":"width"},"y":{"field":"v","type":"quantitative","scale":{"domain":[-0.0031623,0.0032703],"nice":false,"zero":false},"axis":null},"text":{"field":"t"}}},
{"data":{"values":[{"t":"0.0000","v":0}]},"mark":{"type":"text","align":"left","dx":3,"baseline":"middle","fontSize":8,"color":"#000"},
 "encoding":{"x":{"value":"width"},"y":{"field":"v","type":"quantitative","scale":{"domain":[-0.0031623,0.0032703],"nice":false,"zero":false},"axis":null},"text":{"field":"t"}}},
{"data":{"values":[{"t":"-0.0031623","v":-0.0031623}]},"mark":{"type":"text","align":"left","dx":3,"baseline":"bottom","fontSize":8,"color":"#000"},
 "encoding":{"x":{"value":"width"},"y":{"field":"v","type":"quantitative","scale":{"domain":[-0.0031623,0.0032703],"nice":false,"zero":false},"axis":null},"text":{"field":"t"}}},
{"data":{"name":"grid"},"mark":{"type":"rule","color":"#000","strokeDash":[1,2],"strokeWidth":1},
 "encoding":{"x":{"field":"g","type":"quantitative","scale":{"domain":[-0.3,220.6],"nice":false,"zero":false}}}},
{"data":{"name":"hl"},"transform":[{"filter":"datum.s=='d'"}],"mark":{"type":"rule","color":"#b4b4b4","strokeWidth":1,"strokeDash":[3,3]},
 "encoding":{"y":{"field":"v","type":"quantitative","scale":{"domain":[0,100],"nice":false,"zero":false},"axis":null}}},
{"data":{"name":"hl"},"transform":[{"filter":"datum.s=='g'"}],"mark":{"type":"rule","color":"#8a8a8a","strokeWidth":2},
 "encoding":{"y":{"field":"v","type":"quantitative","scale":{"domain":[0,100],"nice":false,"zero":false},"axis":null}}},
{"data":{"name":"hl"},"transform":[{"filter":"datum.s=='k'"}],"mark":{"type":"rule","color":"#000","strokeWidth":1.5},
 "encoding":{"y":{"field":"v","type":"quantitative","scale":{"domain":[0,100],"nice":false,"zero":false},"axis":null}}},
{"data":{"name":"signal"},"mark":{"type":"line","color":"#f03030","strokeWidth":1,"strokeDash":[2,2]},
 "encoding":{"x":{"field":"i","type":"quantitative","scale":{"domain":[-0.3,220.6],"nice":false,"zero":false}},
 "y":{"field":"v","type":"quantitative","scale":{"domain":[0,100],"nice":false,"zero":false},"axis":null}}},
{"data":{"name":"stoch"},"mark":{"type":"line","color":"#3040ff","strokeWidth":1},
 "encoding":{"x":{"field":"i","type":"quantitative","scale":{"domain":[-0.3,220.6],"nice":false,"zero":false}},
 "y":{"field":"v","type":"quantitative","scale":{"domain":[0,100],"nice":false,"zero":false},"axis":null}}},
{"data":{"name":"rsi"},"mark":{"type":"line","color":"#0d1c8c","strokeWidth":2.5},
 "encoding":{"x":{"field":"i","type":"quantitative","scale":{"domain":[-0.3,220.6],"nice":false,"zero":false}},
 "y":{"field":"v","type":"quantitative","scale":{"domain":[0,100],"nice":false,"zero":false},"axis":null}}},
{"data":{"name":"boxes"},"mark":{"type":"tick","orient":"horizontal","size":11,"thickness":8,"xOffset":6.5,"color":"#000"},
 "encoding":{"x":{"value":"width"},"y":{"field":"v","type":"quantitative","scale":{"domain":[0,100],"nice":false,"zero":false},"axis":null}}},
{"data":{"name":"boxes"},"mark":{"type":"text","align":"left","dx":2,"fontSize":8,"color":"#fff"},
 "encoding":{"x":{"value":"width"},"y":{"field":"v","type":"quantitative","scale":{"domain":[0,100],"nice":false,"zero":false},"axis":null},"text":{"field":"v"}}}
],
"resolve":{"scale":{"y":"independent"}}
}
]
}
